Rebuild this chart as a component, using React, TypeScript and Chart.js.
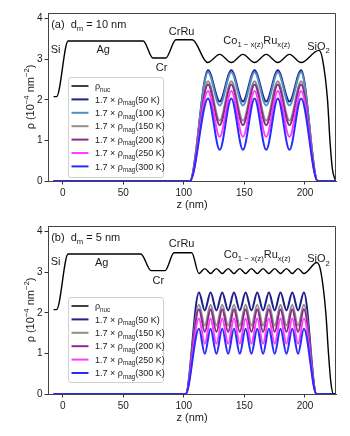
import React, { useEffect, useRef } from "react";
import { Chart, registerables } from "chart.js";
Chart.register(...registerables);

const FONT = '"Liberation Sans", Arial, Helvetica, sans-serif';

// ---------- axes ----------
const xTicks = [0, 50, 100, 150, 200];
const yTicks = [0, 1, 2, 3, 4];
const xMin = -12.1;
const xMax = 225.6;
const yMin = 0;
const yMax = 4.14;

const tempLabels = ["50 K", "100 K", "150 K", "200 K", "250 K", "300 K"];

// ---------- panel (a): d_m = 10 nm ----------
const zNucA = [-7.5, -5, 4.5, 66.5, 74.5, 85, 93.5, 107, 119.6, 129.6, 139.2, 148.8, 158.4, 168, 177.6, 187.2, 196.8, 211.5, 214.5, 218.6, 220.6, 222.6, 225.3];
const rhoNucA = [2.08, 2.08, 3.45, 3.45, 3.03, 3.03, 3.48, 3.48, 2.92, 3.12, 2.92, 3.12, 2.92, 3.12, 2.92, 3.12, 2.92, 3.22, 3.0, 2.0, 1.0, 0.3, 0.0];

const zMagA = [-7.5, 105, 120, 129.6, 139.2, 148.8, 158.4, 168, 177.6, 187.2, 196.8, 210.5, 225.3];
const magA50 = [0, 0, 2.73, 1.96, 2.73, 1.96, 2.73, 1.96, 2.73, 1.96, 2.73, 0, 0];
const magA100 = [0, 0, 2.68, 1.86, 2.68, 1.86, 2.68, 1.86, 2.68, 1.86, 2.68, 0, 0];
const magA150 = [0, 0, 2.46, 1.49, 2.46, 1.49, 2.46, 1.49, 2.46, 1.49, 2.46, 0, 0];
const magA200 = [0, 0, 2.38, 1.38, 2.38, 1.38, 2.38, 1.38, 2.38, 1.38, 2.38, 0, 0];
const magA250 = [0, 0, 2.22, 1.09, 2.22, 1.09, 2.22, 1.09, 2.22, 1.09, 2.22, 0, 0];
const magA300 = [0, 0, 2.03, 0.77, 2.03, 0.77, 2.03, 0.77, 2.03, 0.77, 2.03, 0, 0];

// ---------- panel (b): d_m = 5 nm ----------
const zNucB = [-7.5, -5, 4.5, 64.5, 73, 84.5, 92, 106.5, 112.5, 117.3, 122.1, 126.9, 131.7, 136.6, 141.4, 146.2, 151.0, 155.8, 160.6, 165.4, 170.2, 175.0, 179.8, 184.7, 189.5, 194.3, 199.1, 209.8, 213.2, 217.2, 219.4, 221.3, 223.5, 225.3];
const rhoNucB = [2.08, 2.08, 3.45, 3.45, 3.04, 3.04, 3.48, 3.48, 2.97, 3.09, 2.97, 3.09, 2.97, 3.09, 2.97, 3.09, 2.97, 3.09, 2.97, 3.09, 2.97, 3.09, 2.97, 3.09, 2.97, 3.09, 2.97, 3.24, 3.0, 2.0, 1.0, 0.3, 0.0, 0.0];

const zMagB = [-7.5, 101.5, 112.5, 117.3, 122.1, 126.9, 131.7, 136.6, 141.4, 146.2, 151.0, 155.8, 160.6, 165.4, 170.2, 175.0, 179.8, 184.7, 189.5, 194.3, 199.1, 209.5, 225.3];
const magB50 = [0, 0, 2.5, 2.06, 2.5, 2.06, 2.5, 2.06, 2.5, 2.06, 2.5, 2.06, 2.5, 2.06, 2.5, 2.06, 2.5, 2.06, 2.5, 2.06, 2.5, 0, 0];
const magB150 = [0, 0, 2.2, 1.69, 2.2, 1.69, 2.2, 1.69, 2.2, 1.69, 2.2, 1.69, 2.2, 1.69, 2.2, 1.69, 2.2, 1.69, 2.2, 1.69, 2.2, 0, 0];
const magB200 = [0, 0, 2.09, 1.53, 2.09, 1.53, 2.09, 1.53, 2.09, 1.53, 2.09, 1.53, 2.09, 1.53, 2.09, 1.53, 2.09, 1.53, 2.09, 1.53, 2.09, 0, 0];
const magB250 = [0, 0, 1.86, 1.24, 1.86, 1.24, 1.86, 1.24, 1.86, 1.24, 1.86, 1.24, 1.86, 1.24, 1.86, 1.24, 1.86, 1.24, 1.86, 1.24, 1.86, 0, 0];
const magB300 = [0, 0, 1.61, 0.99, 1.61, 0.99, 1.61, 0.99, 1.61, 0.99, 1.61, 0.99, 1.61, 0.99, 1.61, 0.99, 1.61, 0.99, 1.61, 0.99, 1.61, 0, 0];

// ---------- styles ----------
const tempColors: Record<string, string> = {
  "50 K": "#1e1e8c",
  "100 K": "#4f8fc2",
  "150 K": "#8e8e8e",
  "200 K": "#8b2a8b",
  "250 K": "#ff3cff",
  "300 K": "#2a2aff",
};
const BORDER = "#444";
const TEXT = "#1a1a1a";

type Part = { t: string; s?: "sub" | "sup" };
type Ann = { parts: Part[]; z: number; rho: number; align: "left" | "center" };

type PanelCfg = {
  nucZ: number[];
  nucRho: number[];
  magZ: number[];
  mags: { label: string; values: number[] }[];
  ann: Ann[];
  top: number;
  xAxisH: number;
  legend: { left: number; top: number; width: number; height: number };
};

const panelA: PanelCfg = {
  nucZ: zNucA,
  nucRho: rhoNucA,
  magZ: zMagA,
  mags: [
    { label: tempLabels[0], values: magA50 },
    { label: tempLabels[1], values: magA100 },
    { label: tempLabels[2], values: magA150 },
    { label: tempLabels[3], values: magA200 },
    { label: tempLabels[4], values: magA250 },
    { label: tempLabels[5], values: magA300 },
  ],
  ann: [
    { parts: [{ t: "(a)  d" }, { t: "m", s: "sub" }, { t: " = 10 nm" }], z: -9.5, rho: 3.87, align: "left" },
    { parts: [{ t: "Si" }], z: -9.8, rho: 3.24, align: "left" },
    { parts: [{ t: "Ag" }], z: 33.5, rho: 3.24, align: "center" },
    { parts: [{ t: "Cr" }], z: 81.7, rho: 2.82, align: "center" },
    { parts: [{ t: "CrRu" }], z: 98.2, rho: 3.7, align: "center" },
    { parts: [{ t: "Co" }, { t: "1 − x(z)", s: "sub" }, { t: "Ru" }, { t: "x(z)", s: "sub" }], z: 132.6, rho: 3.47, align: "left" },
    { parts: [{ t: "SiO" }, { t: "2", s: "sub" }], z: 201.9, rho: 3.33, align: "left" },
  ],
  top: 13,
  xAxisH: 37,
  legend: { left: 68, top: 77, width: 95, height: 100 },
};

const panelB: PanelCfg = {
  nucZ: zNucB,
  nucRho: rhoNucB,
  magZ: zMagB,
  mags: [
    { label: tempLabels[0], values: magB50 },
    { label: tempLabels[2], values: magB150 },
    { label: tempLabels[3], values: magB200 },
    { label: tempLabels[4], values: magB250 },
    { label: tempLabels[5], values: magB300 },
  ],
  ann: [
    { parts: [{ t: "(b)  d" }, { t: "m", s: "sub" }, { t: " = 5 nm" }], z: -9.5, rho: 3.88, align: "left" },
    { parts: [{ t: "Si" }], z: -9.8, rho: 3.27, align: "left" },
    { parts: [{ t: "Ag" }], z: 32.2, rho: 3.24, align: "center" },
    { parts: [{ t: "Cr" }], z: 78.9, rho: 2.81, align: "center" },
    { parts: [{ t: "CrRu" }], z: 98.2, rho: 3.72, align: "center" },
    { parts: [{ t: "Co" }, { t: "1 − x(z)", s: "sub" }, { t: "Ru" }, { t: "x(z)", s: "sub" }], z: 133.0, rho: 3.45, align: "left" },
    { parts: [{ t: "SiO" }, { t: "2", s: "sub" }], z: 201.9, rho: 3.34, align: "left" },
  ],
  top: 8,
  xAxisH: 42,
  legend: { left: 68, top: 79, width: 95, height: 85 },
};

function partsWidth(ctx: CanvasRenderingContext2D, parts: Part[], size: number) {
  let w = 0;
  for (const p of parts) {
    ctx.font = `${p.s ? size * 0.7 : size}px ${FONT}`;
    w += ctx.measureText(p.t).width;
  }
  return w;
}

// y = vertical centre of the main-size capitals
function drawParts(ctx: CanvasRenderingContext2D, parts: Part[], x: number, y: number, size: number, align: "left" | "center") {
  const w = partsWidth(ctx, parts, size);
  let cx = align === "center" ? x - w / 2 : x;
  const base = y + size * 0.36;
  ctx.textAlign = "left";
  ctx.textBaseline = "alphabetic";
  for (const p of parts) {
    const fs = p.s ? size * 0.7 : size;
    ctx.font = `${fs}px ${FONT}`;
    const dy = p.s === "sub" ? size * 0.28 : p.s === "sup" ? -size * 0.42 : 0;
    ctx.fillText(p.t, cx, base + dy);
    cx += ctx.measureText(p.t).width;
  }
}

function makeOverlay(cfg: PanelCfg) {
  return {
    id: "overlay",
    afterDraw(chart: any) {
      const ctx: CanvasRenderingContext2D = chart.ctx;
      const a = chart.chartArea;
      const xs = chart.scales.x;
      const ys = chart.scales.y;
      ctx.save();
      // top / right spines
      ctx.strokeStyle = BORDER;
      ctx.lineWidth = 1;
      ctx.beginPath();
      ctx.moveTo(a.left, a.top + 0.5);
      ctx.lineTo(a.right - 0.5, a.top + 0.5);
      ctx.lineTo(a.right - 0.5, a.bottom);
      ctx.stroke();

      ctx.fillStyle = TEXT;
      // x title
      drawParts(ctx, [{ t: "z (nm)" }], (a.left + a.right) / 2, a.bottom + 23.5, 11, "center");
      // y title
      ctx.save();
      ctx.translate(30, (a.top + a.bottom) / 2);
      ctx.rotate(-Math.PI / 2);
      drawParts(ctx, [{ t: "ρ (10" }, { t: "−4", s: "sup" }, { t: " nm" }, { t: "−2", s: "sup" }, { t: ")" }], 0, 0, 11, "center");
      ctx.restore();

      // annotations
      for (const an of cfg.ann) {
        drawParts(ctx, an.parts, xs.getPixelForValue(an.z), ys.getPixelForValue(an.rho), 11, an.align);
      }

      // legend
      const L = cfg.legend;
      ctx.beginPath();
      if ((ctx as any).roundRect) (ctx as any).roundRect(L.left + 0.5, L.top + 0.5, L.width, L.height, 2.5);
      else ctx.rect(L.left + 0.5, L.top + 0.5, L.width, L.height);
      ctx.fillStyle = "rgba(255,255,255,0.85)";
      ctx.fill();
      ctx.strokeStyle = "#d0d0d0";
      ctx.lineWidth = 1;
      ctx.stroke();

      const entries: { color: string; width: number; parts: Part[] }[] = [
        { color: "#000", width: 1.5, parts: [{ t: "ρ" }, { t: "nuc", s: "sub" }] },
        ...cfg.mags.map((m) => ({
          color: tempColors[m.label],
          width: 2,
          parts: [{ t: "1.7 × ρ" }, { t: "mag", s: "sub" }, { t: `(${m.label})` }] as Part[],
        })),
      ];
      entries.forEach((e, i) => {
        const y = L.top + 9 + i * 13.4;
        ctx.strokeStyle = e.color;
        ctx.lineWidth = e.width;
        ctx.beginPath();
        ctx.moveTo(L.left + 3.5, y);
        ctx.lineTo(L.left + 20.5, y);
        ctx.stroke();
        ctx.fillStyle = TEXT;
        drawParts(ctx, e.parts, L.left + 27, y, 9, "left");
      });
      ctx.restore();
    },
  };
}

function Panel({ cfg }: { cfg: PanelCfg }) {
  const ref = useRef<HTMLCanvasElement>(null);
  useEffect(() => {
    if (!ref.current) return;
    const magSets = cfg.mags.map((m, i) => ({
      label: m.label,
      data: cfg.magZ.map((z, k) => ({ x: z, y: m.values[k] })),
      borderColor: tempColors[m.label],
      borderWidth: 2,
      pointRadius: 0,
      tension: 0.4,
      cubicInterpolationMode: "monotone" as const,
      order: cfg.mags.length - i,
    }));
    const nucSet = {
      label: "nuc",
      data: cfg.nucZ.map((z, k) => ({ x: z, y: cfg.nucRho[k] })),
      borderColor: "#000",
      borderWidth: 1.4,
      pointRadius: 0,
      tension: 0.4,
      cubicInterpolationMode: "monotone" as const,
      order: 0,
    };
    const chart = new Chart(ref.current, {
      type: "line",
      data: { datasets: [nucSet, ...magSets] as any },
      options: {
        responsive: false,
        animation: false,
        events: [],
        layout: { padding: { left: 0, right: 14, top: cfg.top, bottom: 0 } },
        plugins: { legend: { display: false }, tooltip: { enabled: false } },
        scales: {
          x: {
            type: "linear",
            min: xMin,
            max: xMax,
            afterBuildTicks: (s: any) => {
              s.ticks = xTicks.map((v) => ({ value: v }));
            },
            afterFit: (s: any) => {
              s.height = cfg.xAxisH;
            },
            grid: { drawOnChartArea: false, drawTicks: true, tickLength: 3.5, tickColor: "#333", tickWidth: 1 },
            border: { display: true, color: BORDER, width: 1 },
            ticks: { font: { size: 10, family: FONT }, color: TEXT, padding: 2.5, maxRotation: 0, autoSkip: false },
          },
          y: {
            type: "linear",
            min: yMin,
            max: yMax,
            afterBuildTicks: (s: any) => {
              s.ticks = yTicks.map((v) => ({ value: v }));
            },
            afterFit: (s: any) => {
              s.width = 48;
            },
            grid: { drawOnChartArea: false, drawTicks: true, tickLength: 3.5, tickColor: "#333", tickWidth: 1 },
            border: { display: true, color: BORDER, width: 1 },
            ticks: { font: { size: 10, family: FONT }, color: TEXT, padding: 2, autoSkip: false },
          },
        },
      },
      plugins: [makeOverlay(cfg)],
    });
    return () => chart.destroy();
  }, [cfg]);
  return <canvas ref={ref} width={350} height={218} style={{ display: "block", width: 350, height: 218 }} />;
}

export default function App() {
  return (
    <div style={{ position: "absolute", left: 0, top: 0, width: 350, height: 436, background: "#fff" }}>
      <Panel cfg={panelA} />
      <Panel cfg={panelB} />
    </div>
  );
}
